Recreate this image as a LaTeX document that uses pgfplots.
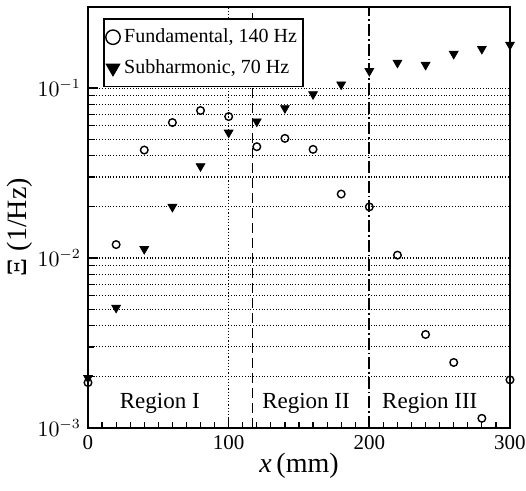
\documentclass[border=0pt]{standalone}
\usepackage{fontspec}
\setmainfont{Liberation Serif}
\usepackage{pgfplots}
\pgfplotsset{compat=1.18}
\begin{document}
\begin{tikzpicture}
\path[use as bounding box] (-44pt,-31.5pt) rectangle (219pt,214pt);
\begin{axis}[
  scale only axis, width=211pt, height=210.5pt,
  xmin=0, xmax=300, ymin=1e-3, ymax=0.3, ymode=log,
  xtick={0,100,200,300}, minor x tick num=9,
  ytick={1e-3,1e-2,1e-1},
  tick pos=left, tick align=inside,
  major tick length=5pt, minor tick length=3pt,
  ymajorgrids, yminorgrids,
  major grid style={black, densely dotted, line width=0.55pt},
  minor grid style={black, densely dotted, line width=0.55pt},
  axis line style={line width=0.9pt},
  every tick/.style={black, line width=0.6pt},
  clip=false,
  xlabel={\textit{x}\,(mm)}, ylabel={Ξ (1/Hz)},
  label style={font=\fontsize{14}{16}\selectfont},
  xlabel style={at={(axis description cs:0.5,0)}, anchor=center, yshift=-19pt},
  ylabel style={at={(axis description cs:-0.161,0.477)}, anchor=center},
  tick label style={font=\fontsize{10.5}{12}\selectfont},
  xticklabel style={/pgf/number format/assume math mode=true},
  legend style={at={(axis description cs:0.0355,0.974)}, anchor=north west,
    draw=black, line width=0.8pt, fill=white, font=\fontsize{10}{12}\selectfont,
    inner xsep=1pt, inner ysep=3pt, row sep=3pt},
  legend cell align=left,
  legend image post style={mark size=3.6pt},
]
\draw[black, densely dotted, line width=0.6pt] (axis cs:100,1e-3) -- (axis cs:100,0.3);
\draw[black, dash pattern=on 5pt off 2.5pt, line width=0.9pt] (axis cs:117,1e-3) -- (axis cs:117,0.3);
\draw[black, dash pattern=on 6pt off 1.5pt on 0.8pt off 1.5pt, line width=0.9pt] (axis cs:200,1e-3) -- (axis cs:200,0.3);

\addplot[only marks, mark=o, mark size=1.9pt, line width=0.7pt, black] coordinates {
(0,1.85e-3)(20,0.012)(40,0.0432)(60,0.0627)(80,0.0738)(100,0.068)(120,0.0452)(140,0.0506)
(160,0.0436)(180,0.0238)(200,0.0200)(220,0.0104)(240,3.55e-3)(260,2.43e-3)(280,1.14e-3)(300,1.92e-3)};
\addlegendentry{Fundamental, 140 Hz}
\addplot[only marks, mark=triangle*, mark size=2.5pt, black, mark options={rotate=180, fill=black}] coordinates {
(0,1.97e-3)(20,5.1e-3)(40,0.0113)(60,0.020)(80,0.0347)(100,0.0547)(120,0.0636)(140,0.0762)
(160,0.092)(180,0.105)(200,0.126)(220,0.141)(240,0.137)(260,0.159)(280,0.170)(300,0.180)};
\addlegendentry{Subharmonic, 70 Hz}

\node[font=\fontsize{11.5}{13}\selectfont] at (axis cs:51,1.4e-3) {Region I};
\node[font=\fontsize{11.5}{13}\selectfont] at (axis cs:155,1.4e-3) {Region II};
\node[font=\fontsize{11.5}{13}\selectfont] at (axis cs:243,1.4e-3) {Region III};
\end{axis}
\end{tikzpicture}
\end{document}
